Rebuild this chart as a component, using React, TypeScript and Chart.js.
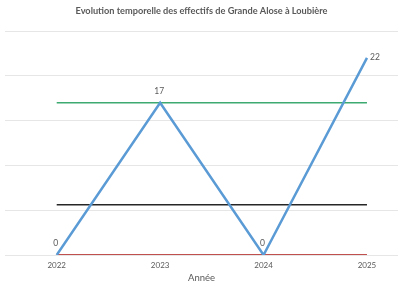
import React, { useEffect, useRef } from "react";
import { Chart, registerables } from "chart.js";

Chart.register(...registerables);

const titre = "Evolution temporelle des effectifs de Grande Alose à Loubière";
const axeX = "Année";
const annees = [2022, 2023, 2024, 2025];
const effectifs = [0, 17, 0, 22];
const seuilHaut = 17;
const seuilMoyen = 5.6;
const seuilBas = 0;
const yTicks = [0, 5, 10, 15, 20, 25];

const FONT = "Lato, 'Open Sans', sans-serif";

const labelPlugin = {
  id: "pointLabels",
  afterDatasetsDraw(chart: any) {
    const meta = chart.getDatasetMeta(0);
    const ctx = chart.ctx;
    ctx.save();
    ctx.font = "8.5px " + FONT;
    ctx.fillStyle = "#595959";
    meta.data.forEach((pt: any, i: number) => {
      const v = effectifs[i];
      if (i === meta.data.length - 1) {
        ctx.textAlign = "left";
        ctx.textBaseline = "middle";
        ctx.fillText(String(v), pt.x + 3, pt.y - 1);
      } else {
        ctx.textAlign = "center";
        ctx.textBaseline = "bottom";
        ctx.fillText(String(v), pt.x - 1, pt.y - 7);
      }
    });
    ctx.restore();
  },
};

export default function App() {
  const ref = useRef<HTMLCanvasElement>(null);
  useEffect(() => {
    document.body.style.margin = "0";
    const line = (v: number) => annees.map((a) => ({ x: a, y: v }));
    const chart = new Chart(ref.current!, {
      type: "line",
      data: {
        datasets: [
          {
            label: "Effectifs",
            data: annees.map((a, i) => ({ x: a, y: effectifs[i] })),
            borderColor: "#5B9BD5",
            borderWidth: 2.5,
            pointRadius: 0,
            tension: 0,
          },
          {
            label: "Seuil haut",
            data: line(seuilHaut),
            borderColor: "#3DAA72",
            borderWidth: 1.5,
            pointRadius: 0,
          },
          {
            label: "Seuil moyen",
            data: line(seuilMoyen),
            borderColor: "#262626",
            borderWidth: 1.5,
            pointRadius: 0,
          },
          {
            label: "Seuil bas",
            data: line(seuilBas),
            borderColor: "#C0504D",
            borderWidth: 2,
            pointRadius: 0,
          },
        ],
      },
      options: {
        animation: false,
        responsive: false,
        maintainAspectRatio: false,
        layout: { padding: { left: 5, right: 2, top: 3, bottom: 0 } },
        plugins: {
          legend: { display: false },
          tooltip: { enabled: false },
          title: {
            display: true,
            text: titre,
            color: "#595959",
            font: { family: FONT, size: 9.2, weight: "bold" },
            padding: { top: 3, bottom: 14 },
          },
        },
        scales: {
          x: {
            type: "linear",
            min: 2021.5,
            max: 2025.3,
            afterBuildTicks: (axis: any) => {
              axis.ticks = annees.map((a) => ({ value: a }));
            },
            grid: { display: false, drawTicks: false },
            border: { display: false },
            ticks: {
              color: "#595959",
              font: { family: FONT, size: 8 },
              padding: 6,
              maxRotation: 0,
              callback: (v: any) => String(v),
            },
            title: {
              display: true,
              text: axeX,
              color: "#595959",
              font: { family: FONT, size: 9.5 },
              padding: { top: -4, bottom: 0 },
            },
          },
          y: {
            min: 0,
            max: 25,
            afterBuildTicks: (axis: any) => {
              axis.ticks = yTicks.map((v) => ({ value: v }));
            },
            ticks: { display: false },
            grid: { color: "#E6E6E6", lineWidth: 1, drawTicks: false },
            border: { display: false },
          },
        },
      },
      plugins: [labelPlugin],
    });
    return () => chart.destroy();
  }, []);
  return (
    <div style={{ width: 400, height: 284, background: "#fff" }}>
      <canvas ref={ref} width={400} height={284} style={{ width: 400, height: 284 }} />
    </div>
  );
}
